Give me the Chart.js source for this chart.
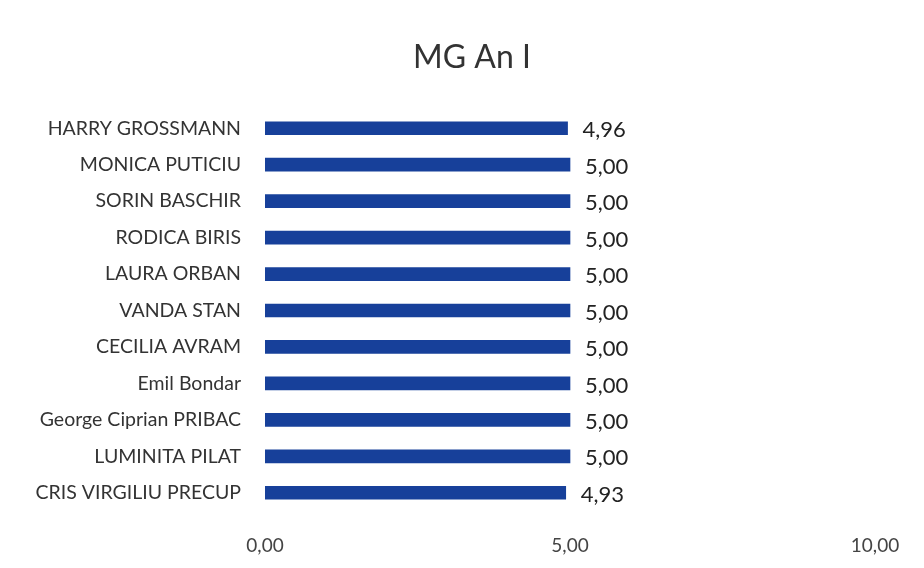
<!DOCTYPE html>
<html>
<head>
<meta charset="utf-8">
<script src="https://cdn.jsdelivr.net/npm/chart.js@4/dist/chart.umd.min.js"></script>
<style>
html,body{margin:0;padding:0;background:#fff;}
#wrap{width:924px;height:568px;position:relative;}
</style>
</head>
<body>
<div id="wrap"><canvas id="c" width="924" height="568"></canvas></div>
<script>
const categories = ["HARRY GROSSMANN","MONICA PUTICIU","SORIN BASCHIR","RODICA BIRIS","LAURA ORBAN","VANDA STAN","CECILIA AVRAM","Emil Bondar","George Ciprian PRIBAC","LUMINITA PILAT","CRIS VIRGILIU PRECUP"];
const values = [4.96,5.00,5.00,5.00,5.00,5.00,5.00,5.00,5.00,5.00,4.93];
const xTicks = [0,5,10];
const title = "MG An I";

const fmt = v => v.toFixed(2).replace('.', ',');

const dataLabels = {
  id: 'dataLabels',
  afterDatasetsDraw(chart) {
    const ctx = chart.ctx;
    const meta = chart.getDatasetMeta(0);
    ctx.save();
    ctx.font = '22px Lato';
    ctx.fillStyle = '#222222';
    ctx.textAlign = 'left';
    ctx.textBaseline = 'middle';
    meta.data.forEach((bar, i) => {
      ctx.fillText(fmt(values[i]), bar.x + 15, bar.y + 2);
    });
    ctx.restore();
  }
};

const titlePlugin = {
  id: 'titlePlugin',
  afterDraw(chart) {
    const ctx = chart.ctx;
    ctx.save();
    ctx.font = '32px Lato';
    ctx.fillStyle = '#333333';
    ctx.textAlign = 'center';
    ctx.textBaseline = 'alphabetic';
    ctx.fillText(title, 472, 68);
    ctx.restore();
  }
};

new Chart(document.getElementById('c'), {
  type: 'bar',
  data: {
    labels: categories,
    datasets: [{
      data: values,
      backgroundColor: '#17409A',
      barThickness: 13
    }]
  },
  options: {
    indexAxis: 'y',
    responsive: false,
    animation: false,
    layout: { padding: { left: 0, right: 49, top: 110, bottom: 0 } },
    plugins: {
      legend: { display: false },
      tooltip: { enabled: false },
      title: { display: false }
    },
    scales: {
      x: {
        min: 0, max: 10,
        afterBuildTicks: s => { s.ticks = xTicks.map(v => ({ value: v })); },
        afterFit: s => { s.height = 57; },
        grid: { display: false, drawTicks: false },
        border: { display: false },
        ticks: {
          color: '#444444',
          font: { family: 'Lato', size: 19 },
          padding: 23,
          maxRotation: 0,
          callback: v => fmt(v)
        }
      },
      y: {
        afterFit: s => { s.width = 265; },
        grid: { display: false, drawTicks: false },
        border: { display: false },
        ticks: {
          color: '#333333',
          font: { family: 'Lato', size: 19.5 },
          padding: 24
        }
      }
    }
  },
  plugins: [dataLabels, titlePlugin]
});
</script>
</body>
</html>
